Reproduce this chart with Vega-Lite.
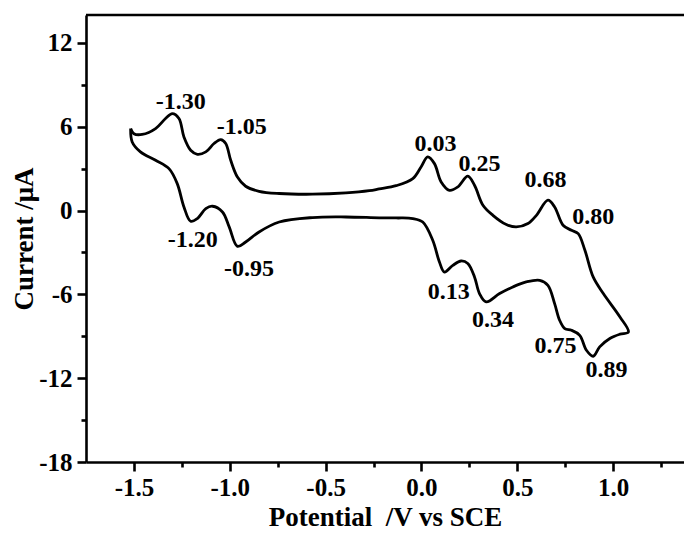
{
  "$schema": "https://vega.github.io/schema/vega-lite/v6.json",
  "width": 598,
  "height": 447,
  "autosize": {"type": "none"},
  "padding": {"left": 86, "top": 15, "right": 0, "bottom": 74},
  "background": "white",
  "config": {
    "view": {"stroke": null},
    "font": "Liberation Serif",
    "axis": {
      "grid": false,
      "domainColor": "black",
      "tickColor": "black",
      "labelColor": "black",
      "titleColor": "black",
      "domainWidth": 2.6,
      "tickWidth": 2.6,
      "labelFont": "Liberation Serif",
      "titleFont": "Liberation Serif",
      "labelFontSize": 25,
      "labelFontWeight": "bold",
      "titleFontSize": 27,
      "titleFontWeight": "bold"
    }
  },
  "layer": [
    {
      "data": {
        "values": [
          {"i": 1, "V": -1.517, "I": 5.87},
          {"i": 2, "V": -1.5, "I": 5.5},
          {"i": 3, "V": -1.457, "I": 5.45},
          {"i": 4, "V": -1.387, "I": 5.87},
          {"i": 5, "V": -1.335, "I": 6.59},
          {"i": 6, "V": -1.3, "I": 6.94},
          {"i": 7, "V": -1.265, "I": 6.59},
          {"i": 8, "V": -1.239, "I": 5.27},
          {"i": 9, "V": -1.204, "I": 4.32},
          {"i": 10, "V": -1.169, "I": 4.03},
          {"i": 11, "V": -1.125, "I": 4.2},
          {"i": 12, "V": -1.082, "I": 4.8},
          {"i": 13, "V": -1.047, "I": 5.08},
          {"i": 14, "V": -1.021, "I": 4.8},
          {"i": 15, "V": -0.995, "I": 3.6},
          {"i": 16, "V": -0.96, "I": 2.4},
          {"i": 17, "V": -0.917, "I": 1.74},
          {"i": 18, "V": -0.847, "I": 1.38},
          {"i": 19, "V": -0.742, "I": 1.22},
          {"i": 20, "V": -0.568, "I": 1.17},
          {"i": 21, "V": -0.394, "I": 1.26},
          {"i": 22, "V": -0.272, "I": 1.42},
          {"i": 23, "V": -0.22, "I": 1.55},
          {"i": 24, "V": -0.132, "I": 1.78},
          {"i": 25, "V": -0.045, "I": 2.29},
          {"i": 26, "V": -0.002, "I": 3.12},
          {"i": 27, "V": 0.033, "I": 3.84},
          {"i": 28, "V": 0.068, "I": 3.36},
          {"i": 29, "V": 0.103, "I": 2.05},
          {"i": 30, "V": 0.146, "I": 1.45},
          {"i": 31, "V": 0.19, "I": 1.69},
          {"i": 32, "V": 0.242, "I": 2.46},
          {"i": 33, "V": 0.277, "I": 1.81},
          {"i": 34, "V": 0.321, "I": 0.38},
          {"i": 35, "V": 0.373, "I": -0.34},
          {"i": 36, "V": 0.443, "I": -1.0},
          {"i": 37, "V": 0.495, "I": -1.17},
          {"i": 38, "V": 0.556, "I": -0.93},
          {"i": 39, "V": 0.6, "I": -0.34},
          {"i": 40, "V": 0.66, "I": 0.74},
          {"i": 41, "V": 0.695, "I": 0.26},
          {"i": 42, "V": 0.739, "I": -1.05},
          {"i": 43, "V": 0.783, "I": -1.41},
          {"i": 44, "V": 0.818, "I": -1.65},
          {"i": 45, "V": 0.853, "I": -2.84},
          {"i": 46, "V": 0.896, "I": -4.75},
          {"i": 47, "V": 0.949, "I": -5.94},
          {"i": 48, "V": 1.036, "I": -7.62},
          {"i": 49, "V": 1.08, "I": -8.69},
          {"i": 50, "V": 1.036, "I": -8.85},
          {"i": 51, "V": 0.983, "I": -9.16},
          {"i": 52, "V": 0.93, "I": -9.76},
          {"i": 53, "V": 0.896, "I": -10.43},
          {"i": 54, "V": 0.861, "I": -10.0},
          {"i": 55, "V": 0.826, "I": -8.93},
          {"i": 56, "V": 0.783, "I": -8.57},
          {"i": 57, "V": 0.748, "I": -8.45},
          {"i": 58, "V": 0.721, "I": -7.85},
          {"i": 59, "V": 0.695, "I": -6.66},
          {"i": 60, "V": 0.66, "I": -5.35},
          {"i": 61, "V": 0.617, "I": -4.99},
          {"i": 62, "V": 0.547, "I": -5.11},
          {"i": 63, "V": 0.477, "I": -5.47},
          {"i": 64, "V": 0.408, "I": -5.94},
          {"i": 65, "V": 0.338, "I": -6.54},
          {"i": 66, "V": 0.303, "I": -5.94},
          {"i": 67, "V": 0.277, "I": -4.75},
          {"i": 68, "V": 0.242, "I": -3.79},
          {"i": 69, "V": 0.207, "I": -3.61},
          {"i": 70, "V": 0.164, "I": -3.92},
          {"i": 71, "V": 0.12, "I": -4.4},
          {"i": 72, "V": 0.094, "I": -3.68},
          {"i": 73, "V": 0.059, "I": -2.13},
          {"i": 74, "V": 0.007, "I": -0.82},
          {"i": 75, "V": -0.045, "I": -0.57},
          {"i": 76, "V": -0.132, "I": -0.53},
          {"i": 77, "V": -0.22, "I": -0.52},
          {"i": 78, "V": -0.394, "I": -0.46},
          {"i": 79, "V": -0.568, "I": -0.5},
          {"i": 80, "V": -0.742, "I": -0.82},
          {"i": 81, "V": -0.847, "I": -1.53},
          {"i": 82, "V": -0.917, "I": -2.25},
          {"i": 83, "V": -0.96, "I": -2.56},
          {"i": 84, "V": -1.003, "I": -1.17},
          {"i": 85, "V": -1.038, "I": -0.1},
          {"i": 86, "V": -1.09, "I": 0.31},
          {"i": 87, "V": -1.125, "I": 0.14},
          {"i": 88, "V": -1.169, "I": -0.57},
          {"i": 89, "V": -1.204, "I": -0.77},
          {"i": 90, "V": -1.239, "I": 0.26},
          {"i": 91, "V": -1.274, "I": 1.93},
          {"i": 92, "V": -1.317, "I": 3.0},
          {"i": 93, "V": -1.387, "I": 3.6},
          {"i": 94, "V": -1.466, "I": 4.2},
          {"i": 95, "V": -1.509, "I": 4.91},
          {"i": 96, "V": -1.517, "I": 5.87}
        ]
      },
      "mark": {"type": "line", "color": "black", "strokeWidth": 2.8, "interpolate": "catmull-rom"},
      "encoding": {
        "x": {
          "field": "V", "type": "quantitative",
          "scale": {"domain": [-1.75, 1.37], "nice": false, "zero": false},
          "axis": {
            "orient": "bottom",
            "values": [-1.5, -1, -0.5, 0, 0.5, 1],
            "format": ".1f",
            "labelExpr": "replace(datum.label, '\u2212', '-')",
            "tickSize": 9,
            "labelPadding": 4,
            "title": "Potential\u00a0 /V vs SCE",
            "titlePadding": 4
          }
        },
        "y": {
          "field": "I", "type": "quantitative",
          "scale": {"domain": [-18, 14], "nice": false, "zero": false},
          "axis": {
            "orient": "left",
            "values": [-18, -12, -6, 0, 6, 12],
            "labelExpr": "replace(datum.label, '\u2212', '-')",
            "tickSize": 9,
            "labelPadding": 5,
            "title": "Current /μA",
            "titlePadding": 0
          }
        },
        "order": {"field": "i", "type": "quantitative"}
      }
    },
    {
      "data": {
        "values": [
          {"label": "-1.30", "V": -1.256, "I": 7.77},
          {"label": "-1.05", "V": -0.937, "I": 5.98},
          {"label": "-1.20", "V": -1.193, "I": -2.08},
          {"label": "-0.95", "V": -0.899, "I": -4.15},
          {"label": "0.03", "V": 0.073, "I": 4.79},
          {"label": "0.25", "V": 0.303, "I": 3.36},
          {"label": "0.68", "V": 0.647, "I": 2.17},
          {"label": "0.80", "V": 0.896, "I": -0.46},
          {"label": "0.13", "V": 0.143, "I": -5.83},
          {"label": "0.34", "V": 0.373, "I": -7.85},
          {"label": "0.75", "V": 0.7, "I": -9.71},
          {"label": "0.89", "V": 0.966, "I": -11.43}
        ]
      },
      "mark": {"type": "text", "fontSize": 24, "fontWeight": "bold", "font": "Liberation Serif", "color": "black", "baseline": "middle", "align": "center"},
      "encoding": {
        "x": {
          "field": "V", "type": "quantitative",
          "scale": {"domain": [-1.75, 1.37], "nice": false, "zero": false},
          "axis": {
            "orient": "bottom",
            "values": [-1.25, -0.75, -0.25, 0.25, 0.75, 1.25],
            "tickSize": 5,
            "labels": false,
            "domain": false,
            "title": null
          }
        },
        "y": {
          "field": "I", "type": "quantitative",
          "scale": {"domain": [-18, 14], "nice": false, "zero": false},
          "axis": {
            "orient": "left",
            "values": [-15, -9, -3, 3, 9],
            "tickSize": 5,
            "labels": false,
            "domain": false,
            "title": null
          }
        },
        "text": {"field": "label", "type": "nominal"}
      }
    },
    {
      "data": {"values": [{"top": 14}]},
      "mark": {"type": "rule", "color": "black", "strokeWidth": 2.6},
      "encoding": {
        "y": {"field": "top", "type": "quantitative", "scale": {"domain": [-18, 14], "nice": false, "zero": false}, "axis": null}
      }
    }
  ],
  "resolve": {"axis": {"x": "independent", "y": "independent"}}
}
